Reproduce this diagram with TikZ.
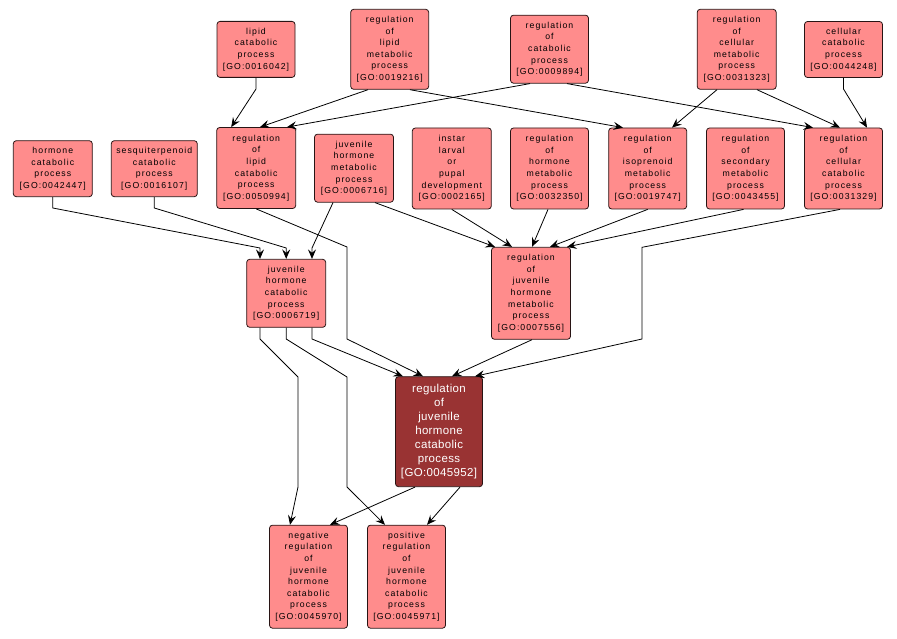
\documentclass[tikz,border=0pt]{standalone}
\usepackage{fontspec}
\setmainfont{Liberation Sans}
\newfontfamily\boxfont[LetterSpace=12]{Liberation Sans}
\newfontfamily\mainfont[LetterSpace=3]{Liberation Sans}
\usetikzlibrary{arrows.meta}
\definecolor{gofill}{RGB}{255,140,140}
\definecolor{gomain}{RGB}{153,51,51}
\definecolor{goedge}{RGB}{40,20,20}
\begin{document}
\begin{tikzpicture}[x=1pt,y=-1pt,
  gobox/.style={draw=goedge, line width=0.8pt, fill=gofill, rounded corners=3pt,
    inner sep=0pt, align=center, font=\boxfont\fontsize{8.7}{11.6}\selectfont,
    minimum width=78pt},
  gomainbox/.style={draw=goedge, line width=0.8pt, fill=gomain, rounded corners=3pt,
    inner sep=0pt, align=center, text=white, font=\mainfont\fontsize{11.5}{14}\selectfont,
    minimum width=87pt, minimum height=110pt},
  link/.style={draw=black, line width=0.8pt, -{Stealth[length=9.5pt,width=8pt,inset=3.5pt]}}
]
\useasboundingbox (0,0) rectangle (897,639);
% top row
\node[gobox, minimum height=56pt] (n1) at (256,49.4) {lipid\\catabolic\\process\\{[GO:0016042]}};
\node[gobox, minimum height=80pt] (n2) at (389.7,49.3) {regulation\\of\\lipid\\metabolic\\process\\{[GO:0019216]}};
\node[gobox, minimum height=68pt] (n3) at (549.5,49.2) {regulation\\of\\catabolic\\process\\{[GO:0009894]}};
\node[gobox, minimum height=80pt, minimum width=79pt] (n4) at (736.7,49.3) {regulation\\of\\cellular\\metabolic\\process\\{[GO:0031323]}};
\node[gobox, minimum height=56pt] (n5) at (843.5,49.5) {cellular\\catabolic\\process\\{[GO:0044248]}};
% second row
\node[gobox, minimum height=56pt, minimum width=79pt] (n6) at (52.8,168.7) {hormone\\catabolic\\process\\{[GO:0042447]}};
\node[gobox, minimum height=56pt, minimum width=86pt] (n7) at (154.3,168.7) {sesquiterpenoid\\catabolic\\process\\{[GO:0016107]}};
\node[gobox, minimum height=81pt, minimum width=79pt] (n8) at (256.2,168) {regulation\\of\\lipid\\catabolic\\process\\{[GO:0050994]}};
\node[gobox, minimum height=68pt, minimum width=79pt] (n9) at (354,168.2) {juvenile\\hormone\\metabolic\\process\\{[GO:0006716]}};
\node[gobox, minimum height=81pt, minimum width=79pt] (n10) at (451.8,168.5) {instar\\larval\\or\\pupal\\development\\{[GO:0002165]}};
\node[gobox, minimum height=81pt] (n11) at (549.5,168.5) {regulation\\of\\hormone\\metabolic\\process\\{[GO:0032350]}};
\node[gobox, minimum height=81pt] (n12) at (647.7,168.5) {regulation\\of\\isoprenoid\\metabolic\\process\\{[GO:0019747]}};
\node[gobox, minimum height=81pt] (n13) at (745.5,168.5) {regulation\\of\\secondary\\metabolic\\process\\{[GO:0043455]}};
\node[gobox, minimum height=81pt] (n14) at (843.5,168.5) {regulation\\of\\cellular\\catabolic\\process\\{[GO:0031329]}};
% third row
\node[gobox, minimum height=68pt, minimum width=79pt] (n15) at (286.2,293.3) {juvenile\\hormone\\catabolic\\process\\{[GO:0006719]}};
\node[gobox, minimum height=92pt, minimum width=79pt] (n16) at (531,293.3) {regulation\\of\\juvenile\\hormone\\metabolic\\process\\{[GO:0007556]}};
\node[gomainbox] (n17) at (439,431.7) {regulation\\of\\juvenile\\hormone\\catabolic\\process\\{[GO:0045952]}};
% bottom row
\node[gobox, minimum height=103pt] (n18) at (308.5,576.7) {negative\\regulation\\of\\juvenile\\hormone\\catabolic\\process\\{[GO:0045970]}};
\node[gobox, minimum height=103pt] (n19) at (406.5,576.7) {positive\\regulation\\of\\juvenile\\hormone\\catabolic\\process\\{[GO:0045971]}};
% edges
\draw[link] (n1.south) -- (256,89) -- ([xshift=-25pt]n8.north);
\draw[link] ([xshift=-21.7pt]n2.south) -- ([xshift=3.8pt]n8.north);
\draw[link] ([xshift=-19.5pt]n3.south) -- ([xshift=30.8pt]n8.north);
\draw[link] ([xshift=20.3pt]n2.south) -- ([xshift=-24.7pt]n12.north);
\draw[link] ([xshift=17.5pt]n3.south) -- ([xshift=-30.5pt]n14.north);
\draw[link] ([xshift=-19.7pt]n4.south) -- ([xshift=24.3pt]n12.north);
\draw[link] ([xshift=20.3pt]n4.south) -- ([xshift=-3.5pt]n14.north);
\draw[link] (n5.south) -- (843.5,89) -- ([xshift=23.5pt]n14.north);
\draw[link] (n6.south) -- (52.8,208) -- (260,248) -- ([xshift=-26.2pt]n15.north);
\draw[link] (n7.south) -- (154.3,208) -- (286.2,248) -- (n15.north);
\draw[link] ([xshift=-21pt]n9.south) -- (312,248) -- ([xshift=25.8pt]n15.north);
\draw[link] ([xshift=21pt]n9.south) -- ([xshift=-36pt]n16.north);
\draw[link] (n10.south) -- ([xshift=-19pt]n16.north);
\draw[link] ([xshift=-1.5pt]n11.south) -- ([xshift=1pt]n16.north);
\draw[link] (n12.south) -- ([xshift=19pt]n16.north);
\draw[link] ([xshift=-2pt]n13.south) -- ([xshift=36pt]n16.north);
\draw[link] ([xshift=-3.5pt]n14.south) -- (642,247.3) -- (642,339) -- ([xshift=36pt]n17.north);
\draw[link] (n8.south) -- (347,247) -- (347,339) -- ([xshift=-16pt]n17.north);
\draw[link] ([xshift=25.8pt]n15.south) -- (312,339) -- ([xshift=-36pt]n17.north);
\draw[link] ([xshift=1pt]n16.south) -- ([xshift=13pt]n17.north);
\draw[link] ([xshift=-26.2pt]n15.south) -- (260,339) -- (298,377) -- (298,487) -- ([xshift=-18.5pt]n18.north);
\draw[link] (n15.south) -- (286.2,339) -- (347,377) -- (347,487) -- ([xshift=-21.5pt]n19.north);
\draw[link] ([xshift=-24pt]n17.south) -- ([xshift=21.5pt]n18.north);
\draw[link] ([xshift=21pt]n17.south) -- ([xshift=20.5pt]n19.north);
\end{tikzpicture}
\end{document}
